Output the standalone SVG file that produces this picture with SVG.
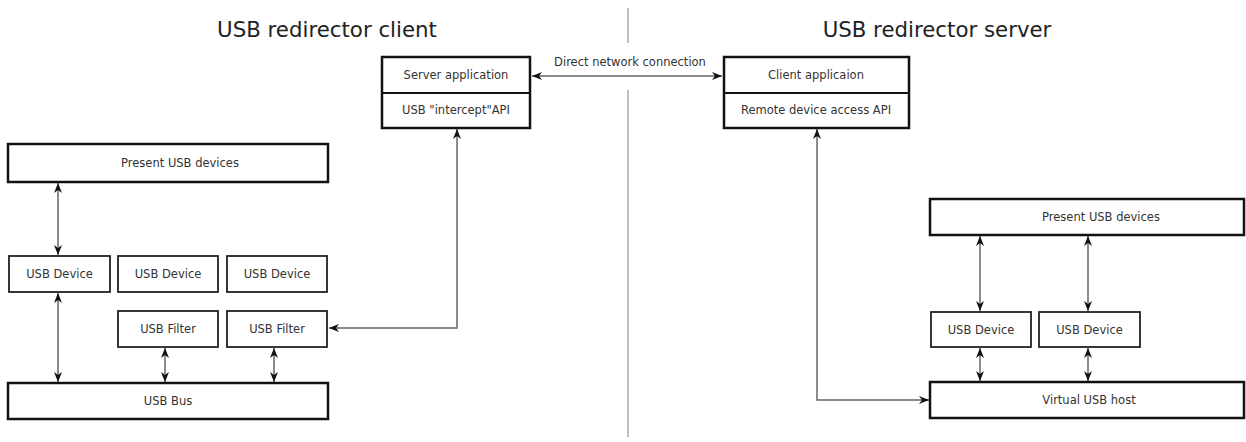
<svg xmlns="http://www.w3.org/2000/svg" width="1246" height="442" viewBox="0 0 1246 442">
<defs>
<style>
.title{font-family:"DejaVu Sans",sans-serif;font-size:21.3px;fill:#222;text-anchor:middle}
.lbl{font-family:"DejaVu Sans",sans-serif;font-size:11.5px;fill:#333;text-anchor:middle}
.big{fill:#fff;stroke:#111;stroke-width:2.5}
.box{fill:#fff;stroke:#222;stroke-width:1.8}
.con{fill:none;stroke:#666;stroke-width:1.5}
.div{fill:none;stroke:#aaa;stroke-width:1.5}
</style>
<marker id="ah" viewBox="0 0 10 8" refX="10" refY="4" markerWidth="11" markerHeight="8" markerUnits="userSpaceOnUse" orient="auto-start-reverse">
<path d="M0,0 L10,4 L0,8 L3,4 Z" fill="#111"/>
</marker>
</defs>
<rect width="1246" height="442" fill="#fff"/>
<text class="title" x="327" y="37">USB redirector client</text>
<text class="title" x="937" y="37">USB redirector server</text>
<g id="divider">
<line class="div" x1="628" y1="8" x2="628" y2="43"/>
<line class="div" x1="628" y1="90" x2="628" y2="437"/>
</g>
<g id="connectors">
<line class="con" x1="532" y1="76" x2="722" y2="76" marker-start="url(#ah)" marker-end="url(#ah)"/>
<text class="lbl" x="630" y="66">Direct network connection</text>
<polyline class="con" points="457,129 457,328 329,328" marker-start="url(#ah)" marker-end="url(#ah)"/>
<polyline class="con" points="817,129 817,400 929,400" marker-start="url(#ah)" marker-end="url(#ah)"/>
<line class="con" x1="58" y1="183" x2="58" y2="255" marker-start="url(#ah)" marker-end="url(#ah)"/>
<line class="con" x1="58" y1="293" x2="58" y2="382" marker-start="url(#ah)" marker-end="url(#ah)"/>
<line class="con" x1="165" y1="348" x2="165" y2="382" marker-start="url(#ah)" marker-end="url(#ah)"/>
<line class="con" x1="274" y1="348" x2="274" y2="382" marker-start="url(#ah)" marker-end="url(#ah)"/>
<line class="con" x1="980" y1="236" x2="980" y2="311" marker-start="url(#ah)" marker-end="url(#ah)"/>
<line class="con" x1="1088" y1="236" x2="1088" y2="311" marker-start="url(#ah)" marker-end="url(#ah)"/>
<line class="con" x1="980" y1="348" x2="980" y2="381" marker-start="url(#ah)" marker-end="url(#ah)"/>
<line class="con" x1="1088" y1="348" x2="1088" y2="381" marker-start="url(#ah)" marker-end="url(#ah)"/>
</g>
<g id="server-app">
<rect class="big" x="382" y="57" width="148" height="71"/>
<line stroke="#111" stroke-width="2" x1="382" y1="93" x2="530" y2="93"/>
<text class="lbl" x="456" y="79">Server application</text>
<text class="lbl" x="456" y="114">USB "intercept"API</text>
</g>
<g id="client-app">
<rect class="big" x="724" y="57" width="185" height="71"/>
<line stroke="#111" stroke-width="2" x1="724" y1="93" x2="909" y2="93"/>
<text class="lbl" x="816" y="79">Client applicaion</text>
<text class="lbl" x="816" y="114">Remote device access API</text>
</g>
<g id="present-left">
<rect class="big" x="8" y="144" width="320" height="38"/>
<text class="lbl" x="180" y="167">Present USB devices</text>
</g>
<g id="dev-l1"><rect class="box" x="9" y="256" width="101" height="36"/><text class="lbl" x="59.5" y="278">USB Device</text></g>
<g id="dev-l2"><rect class="box" x="118" y="256" width="100" height="36"/><text class="lbl" x="168" y="278">USB Device</text></g>
<g id="dev-l3"><rect class="box" x="227" y="256" width="100" height="36"/><text class="lbl" x="277" y="278">USB Device</text></g>
<g id="filter-l1"><rect class="box" x="118" y="311" width="100" height="36"/><text class="lbl" x="168" y="333">USB Filter</text></g>
<g id="filter-l2"><rect class="box" x="227" y="311" width="100" height="36"/><text class="lbl" x="277" y="333">USB Filter</text></g>
<g id="bus-left">
<rect class="big" x="8" y="383" width="320" height="36"/>
<text class="lbl" x="168" y="405">USB Bus</text>
</g>
<g id="present-right">
<rect class="big" x="930" y="199" width="314" height="36"/>
<text class="lbl" x="1101" y="221">Present USB devices</text>
</g>
<g id="dev-r1"><rect class="box" x="931" y="312" width="100" height="35"/><text class="lbl" x="981" y="334">USB Device</text></g>
<g id="dev-r2"><rect class="box" x="1039" y="312" width="101" height="35"/><text class="lbl" x="1089.5" y="334">USB Device</text></g>
<g id="virtual-host">
<rect class="big" x="930" y="382" width="314" height="36"/>
<text class="lbl" x="1089" y="404">Virtual USB host</text>
</g>
</svg>
